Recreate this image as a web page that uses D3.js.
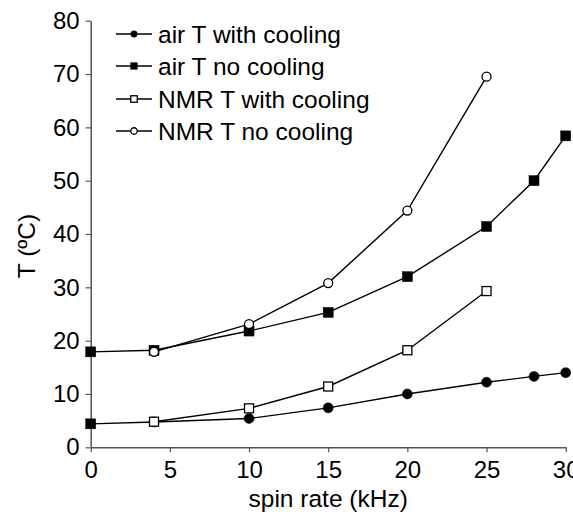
<!DOCTYPE html>
<html>
<head>
<meta charset="utf-8">
<script src="https://cdn.jsdelivr.net/npm/d3@7"></script>
<style>
  body { margin: 0; background: #fff; }
  text { font-family: "Liberation Sans", Arial, sans-serif; fill: #000; }
</style>
</head>
<body>
<svg id="chart"></svg>
<script>
// Spin rates (kHz) and temperatures (°C)
const airSpin = [0, 4, 10, 15, 20, 25, 28, 30];
const airWithCooling = [4.4, 4.75, 5.4, 7.4, 10.0, 12.2, 13.3, 14.0];
const airNoCooling = [17.9, 18.2, 21.8, 25.3, 32.0, 41.4, 50.0, 58.4];

const nmrSpin = [4, 10, 15, 20, 25];
const nmrWithCooling = [4.8, 7.3, 11.4, 18.2, 29.3];
const nmrNoCooling = [17.9, 23.1, 30.8, 44.4, 69.5];

const xTicks = [0, 5, 10, 15, 20, 25, 30];
const yTicks = [0, 10, 20, 30, 40, 50, 60, 70, 80];

const series = [
    { name: "air T with cooling", spin: airSpin, values: airWithCooling, shape: "circle", filled: true },
    { name: "air T no cooling", spin: airSpin, values: airNoCooling, shape: "square", filled: true },
    { name: "NMR T with cooling", spin: nmrSpin, values: nmrWithCooling, shape: "square", filled: false },
    { name: "NMR T no cooling", spin: nmrSpin, values: nmrNoCooling, shape: "circle", filled: false }
];

const W = 573, H = 515;
const margin = { top: 20.7, right: 7.3, bottom: 67.7, left: 90.7 };
const width = W - margin.left - margin.right,
    height = H - margin.top - margin.bottom;

const svg = d3.select("#chart").attr("width", W).attr("height", H);
const g = svg.append("g").attr("transform", `translate(${margin.left},${margin.top})`);

const x = d3.scaleLinear().domain([0, 30]).range([0, width]);
const y = d3.scaleLinear().domain([0, 80]).range([height, 0]);

// axes
const axisColor = "#555";
const xAxis = g.append("g")
    .attr("transform", `translate(0,${height})`)
    .call(d3.axisBottom(x).tickValues(xTicks).tickSize(5).tickPadding(9).tickSizeOuter(0));
const yAxis = g.append("g")
    .call(d3.axisLeft(y).tickValues(yTicks).tickSize(5).tickPadding(6).tickSizeOuter(0));
[xAxis, yAxis].forEach(a => {
    a.select(".domain").attr("stroke", axisColor).attr("stroke-width", 1.5);
    a.selectAll(".tick line").attr("stroke", axisColor).attr("stroke-width", 1.2);
    a.selectAll(".tick text").attr("font-size", 24).attr("fill", "#000")
        .attr("font-family", "'Liberation Sans', Arial, sans-serif");
});

// axis labels
svg.append("text")
    .attr("x", margin.left + width / 2)
    .attr("y", 507)
    .attr("text-anchor", "middle")
    .attr("font-size", 24.5)
    .text("spin rate (kHz)");
svg.append("text")
    .attr("transform", "translate(35,246) rotate(-90)")
    .attr("text-anchor", "middle")
    .attr("font-size", 24.5)
    .text("T (ºC)");

// draw a marker
function marker(sel, shape, filled, size) {
    if (shape === "circle") {
        sel.append("circle").attr("r", size / 2);
    } else {
        sel.append("rect")
            .attr("x", -size / 2).attr("y", -size / 2)
            .attr("width", size).attr("height", size);
    }
    sel.selectAll("circle, rect")
        .attr("fill", filled ? "#000" : "#fff")
        .attr("stroke", "#000")
        .attr("stroke-width", filled ? 0.5 : 1.3);
}

const line = d3.line().x(d => x(d[0])).y(d => y(d[1]));

series.forEach(s => {
    const pts = s.spin.map((v, i) => [v, s.values[i]]);
    g.append("path")
        .datum(pts)
        .attr("d", line)
        .attr("fill", "none")
        .attr("stroke", "#000")
        .attr("stroke-width", 1.4);
});

// markers drawn after all lines so they sit on top; 0 kHz points show as filled squares
series.forEach(s => {
    s.spin.forEach((v, i) => {
        const m = g.append("g").attr("transform", `translate(${x(v)},${y(s.values[i])})`);
        if (v === 0) marker(m, "square", true, 10);
        else marker(m, s.shape, s.filled, s.filled ? 10 : 9);
    });
});

// legend
const legend = svg.append("g");
const rowY = [34, 66, 99, 131];
series.forEach((s, i) => {
    const row = legend.append("g").attr("transform", `translate(0,${rowY[i]})`);
    row.append("line")
        .attr("x1", 116).attr("x2", 152)
        .attr("stroke", "#000").attr("stroke-width", 1.4);
    const m = row.append("g").attr("transform", "translate(134,0)");
    marker(m, s.shape, s.filled, 6.5);
    row.append("text")
        .attr("x", 158)
        .attr("dy", "0.36em")
        .attr("font-size", 24.5)
        .text(s.name);
});
</script>
</body>
</html>
